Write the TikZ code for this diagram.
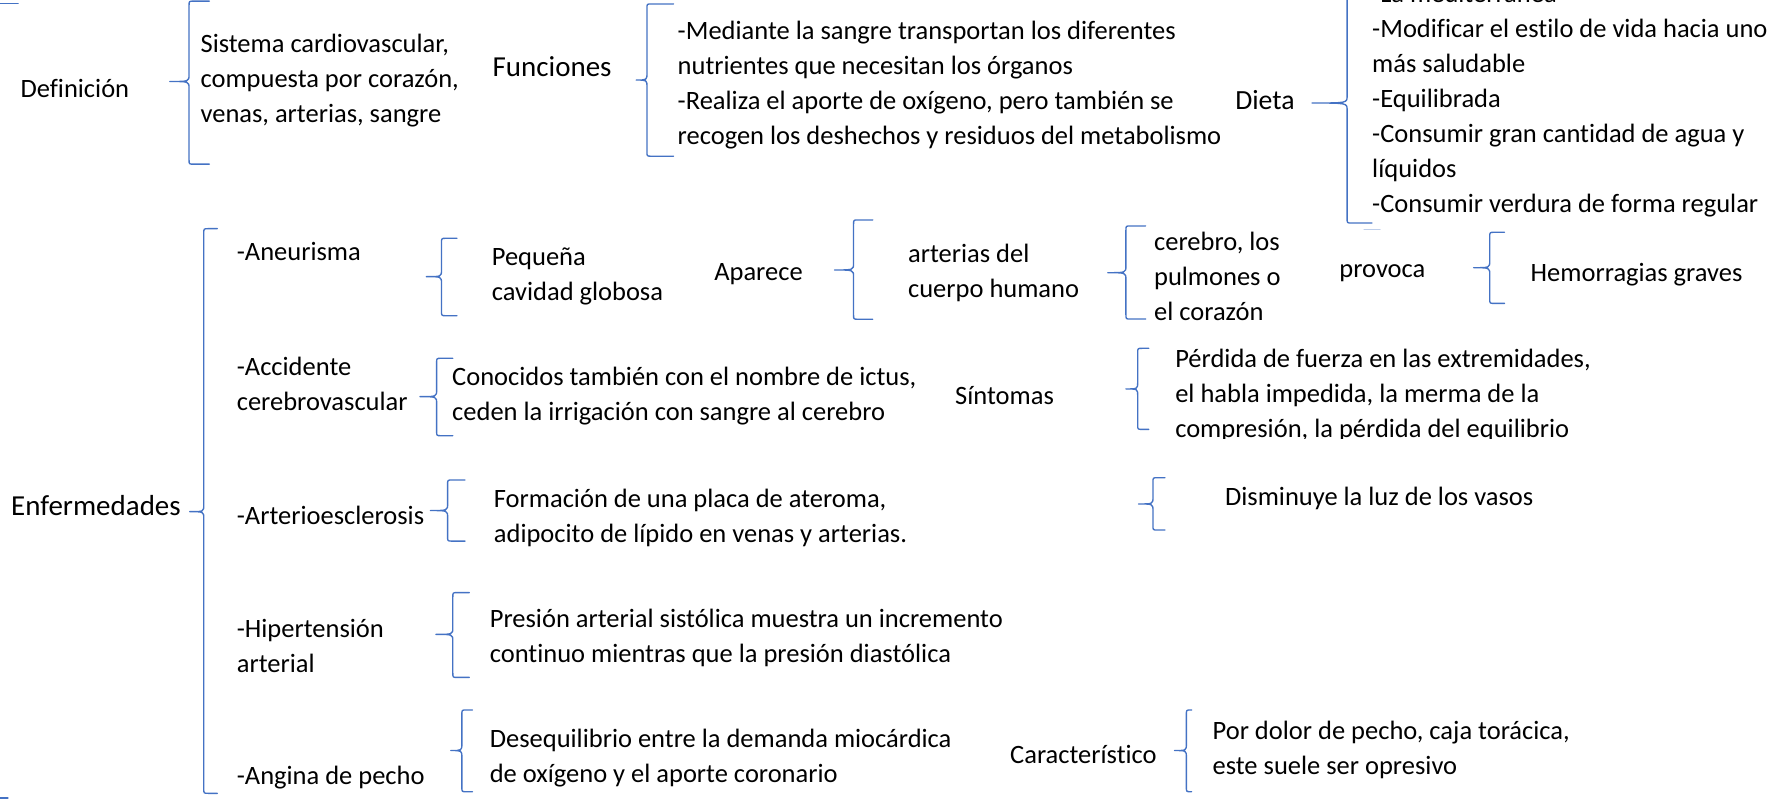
\documentclass[tikz,border=0pt]{standalone}
\usepackage{fontspec}
\setmainfont{Carlito}[Ligatures={NoCommon}]
\definecolor{brc}{HTML}{4472C4}
\tikzset{
  txt/.style={anchor=base west, inner sep=0pt, align=left, font=\fontsize{23.4pt}{30.9pt}\selectfont},
  bigtxt/.style={txt, font=\fontsize{25.6pt}{31pt}\selectfont},
  brace/.style={draw=brc, line width=1.2pt, line cap=round, line join=round}
}
% xv, top, bottom, tipx, tipy, hookx
\newcommand{\brc}[6]{%
  \draw[brace] (#6,#2) -- ({#1+4},#2) .. controls (#1,#2) .. (#1,{#2+4})
    -- (#1,{#5-6}) .. controls (#1,#5) .. (#4,#5)
    .. controls (#1,#5) .. (#1,{#5+6})
    -- (#1,{#3-4}) .. controls (#1,#3) .. ({#1+4},#3) -- (#6,#3);
}
\begin{document}
\begin{tikzpicture}[x=1pt,y=-1pt]
\useasboundingbox (0,0) rectangle (1568,708);
\fill[white] (0,0) rectangle (1568,708);

% (multi-line nodes: base anchor = baseline of last line)
% top row
\node[txt] (def) at (18,86) {Definición};
\node[txt] (defT) at (177,108.6) {Sistema cardiovascular,\\compuesta por corazón,\\venas, arterias, sangre};
\node[bigtxt] (fun) at (435,67.4) {Funciones};
\node[txt] (funT) at (598.5,127.8) {-Mediante la sangre transportan los diferentes\\nutrientes que necesitan los órganos\\-Realiza el aporte de oxígeno, pero también se\\recogen los deshechos y residuos del metabolismo};
\node[txt, font=\fontsize{24.5pt}{31pt}\selectfont] (dieta) at (1091,96.8) {Dieta};
\node[txt] (dietaT) at (1212,187.5) {-La mediterránea\\-Modificar el estilo de vida hacia uno\\más saludable\\-Equilibrada\\-Consumir gran cantidad de agua y\\líquidos\\-Consumir verdura de forma regular};

\brc{167}{1}{145}{150}{72}{185}
\brc{571.5}{3.5}{138}{562}{70.7}{595}
\brc{1190}{-15}{197}{1159}{91}{1212}

% Enfermedades
\node[bigtxt] (enf) at (9.7,455.2) {Enfermedades};
\brc{180}{202}{700.8}{167.6}{452}{192}

% Aneurisma row
\node[txt] (ane) at (209,230.3) {-Aneurisma};
\node[txt] (aneT) at (434.3,265.6) {Pequeña\\cavidad globosa};
\node[txt] (apa) at (630.8,248) {Aparece};
\node[txt] (art) at (802,262.7) {arterias del\\cuerpo humano};
\node[txt] (org) at (1019.3,283.3) {cerebro, los\\pulmones o\\el corazón};
\node[txt] (prov) at (1183,245) {provoca};
\node[txt] (hem) at (1352,248.5) {Hemorragias graves};
\brc{390}{210.5}{278.9}{376.6}{244.4}{403.7}
\brc{754}{194.3}{282}{737.3}{238.5}{771}
\brc{994.6}{199.6}{281.8}{978.6}{240.9}{1012}
\brc{1316}{205.2}{268}{1301.8}{236.5}{1329}

% Accidente row
\node[txt] (acc) at (209,362.8) {-Accidente\\cerebrovascular};
\node[txt] (accT) at (399.3,371.6) {Conocidos también con el nombre de ictus,\\ceden la irrigación con sangre al cerebro};
\node[txt] (sint) at (843.6,356.9) {Síntomas};
\begin{scope}
  \clip (1030,295) rectangle (1500,387.5);
  \node[txt] (perd) at (1038,386.3) {Pérdida de fuerza en las extremidades,\\el habla impedida, la merma de la\\compresión, la pérdida del equilibrio};
\end{scope}
\brc{385.7}{316.5}{384.9}{371}{350.4}{400}
\brc{1005}{307.7}{379.3}{994.6}{343.6}{1014.8}

% Arterioesclerosis row
\node[txt] (arte) at (209,462.9) {-Arterioesclerosis};
\node[txt] (arteT) at (436.1,479.1) {Formación de una placa de ateroma,\\adipocito de lípido en venas y arterias.};
\node[txt] (dism) at (1082,446.7) {Disminuye la luz de los vasos};
\brc{395.4}{424}{478}{380.2}{451}{410.8}
\brc{1018.5}{422}{468.2}{1005.8}{445.2}{1029}

% Hipertension row
\node[txt] (hip) at (209,593.9) {-Hipertensión\\arterial};
\node[txt] (hipT) at (432.5,585.1) {Presión arterial sistólica muestra un incremento\\continuo mientras que la presión diastólica};
\brc{400}{523.5}{598.4}{385}{560.4}{414.5}

% Angina row
\node[txt] (ang) at (209,692.6) {-Angina de pecho};
\node[txt] (angT) at (432.5,691.1) {Desequilibrio entre la demanda miocárdica\\de oxígeno y el aporte coronario};
\node[txt] (car) at (892.2,674.3) {Característico};
\node[txt] (carT) at (1071,683.8) {Por dolor de pecho, caja torácica,\\este suele ser opresivo};
\brc{408}{627.2}{699.4}{398.3}{663}{417.4}
\brc{1048}{627.2}{699.4}{1037.5}{663}{1052.6}

% stray fragments
\coordinate (tl1) at (0,3); \coordinate (tl2) at (16,3);
\coordinate (bl1) at (0,705); \coordinate (bl2) at (7,705);
\coordinate (fm1) at (1205,203); \coordinate (fm2) at (1219,203);
\draw[brace] (tl1) -- (tl2);
\draw[brace] (bl1) -- (bl2);
\draw[brace, draw=brc!35] (fm1) -- (fm2);
\end{tikzpicture}
\end{document}
